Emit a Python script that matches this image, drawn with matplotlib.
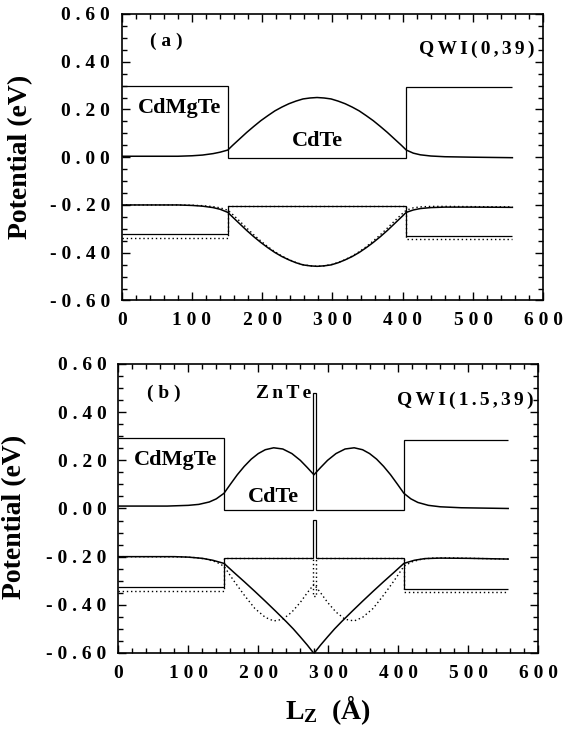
import matplotlib
matplotlib.use("Agg")
import matplotlib.pyplot as plt
from matplotlib.ticker import MultipleLocator

plt.rcParams['font.family'] = ['Liberation Serif', 'DejaVu Serif']
plt.rcParams['font.weight'] = 'bold'
plt.rcParams['mathtext.fontset'] = 'custom'
plt.rcParams['mathtext.rm'] = 'Liberation Serif:bold'
plt.rcParams['mathtext.bf'] = 'Liberation Serif:bold'
plt.rcParams['mathtext.it'] = 'Liberation Serif:bold'

# axis ticks
x_ticks = [0, 100, 200, 300, 400, 500, 600]
y_ticks = [-0.6, -0.4, -0.2, 0.0, 0.2, 0.4, 0.6]

# ---- panel (a): QWI(0,39) ----
# square potentials (edges in Angstrom, levels in eV)
a_edges = [0, 151, 405, 556]
a_cb_pot = [0.300, -0.003, 0.293]
a_hh_pot = [-0.323, -0.203, -0.331]
a_lh_pot = [-0.338, -0.203, -0.342]

a_x = [0, 80, 100, 115, 130, 140, 151, 158, 168, 178, 188, 198, 208, 218, 228,
       238, 248, 258, 268, 278, 288, 298, 308, 318, 328, 338, 348, 358, 368,
       378, 388, 398, 405, 415, 425, 440, 460, 500, 556]
a_cb = [0.004, 0.004, 0.006, 0.009, 0.015, 0.021, 0.030, 0.050, 0.077, 0.104,
        0.129, 0.153, 0.174, 0.194, 0.210, 0.224, 0.235, 0.244, 0.248, 0.250,
        0.248, 0.244, 0.235, 0.224, 0.210, 0.194, 0.174, 0.153, 0.129, 0.104,
        0.077, 0.050, 0.030, 0.017, 0.010, 0.005, 0.002, 0.000, -0.002]
a_hh = [-0.200, -0.200, -0.202, -0.205, -0.211, -0.218, -0.231, -0.251, -0.279,
        -0.307, -0.333, -0.357, -0.379, -0.399, -0.416, -0.430, -0.442, -0.451,
        -0.455, -0.457, -0.455, -0.451, -0.442, -0.430, -0.416, -0.399, -0.379,
        -0.357, -0.333, -0.307, -0.279, -0.251, -0.231, -0.221, -0.215, -0.211,
        -0.209, -0.209, -0.210]
a_lh = [-0.200, -0.200, -0.201, -0.203, -0.207, -0.212, -0.222, -0.240, -0.268,
        -0.297, -0.325, -0.351, -0.375, -0.396, -0.414, -0.429, -0.441, -0.450,
        -0.455, -0.457, -0.455, -0.450, -0.441, -0.429, -0.414, -0.396, -0.375,
        -0.351, -0.325, -0.297, -0.268, -0.240, -0.222, -0.212, -0.208, -0.206,
        -0.206, -0.207, -0.208]

# ---- panel (b): QWI(1.5,39), ZnTe spike in the middle ----
b_edges = [0, 151, 277.5, 282, 408, 557]
b_cb_pot = [0.293, -0.005, 0.480, -0.005, 0.285]
b_hh_pot = [-0.327, -0.207, -0.048, -0.207, -0.336]
b_lh_pot = [-0.341, -0.207, -0.365, -0.207, -0.348]

b_cb_x = [0, 70, 100, 115, 130, 140, 151, 160, 170, 180, 190, 200, 210, 222,
          235, 248, 260, 270, 279.5, 289, 299, 311, 324, 337, 349, 359, 369,
          379, 389, 399, 408, 418, 428, 443, 460, 490, 557]
b_cb = [0.010, 0.010, 0.013, 0.017, 0.027, 0.040, 0.063, 0.100, 0.140, 0.175,
        0.205, 0.228, 0.244, 0.252, 0.247, 0.228, 0.200, 0.170, 0.140, 0.170,
        0.200, 0.228, 0.247, 0.252, 0.244, 0.228, 0.205, 0.175, 0.140, 0.100,
        0.063, 0.040, 0.025, 0.013, 0.007, 0.003, 0.000]

b_hh_x = [0, 80, 100, 120, 135, 151, 165, 180, 195, 210, 225, 240, 250, 260,
          270, 279.5, 289, 299, 309, 319, 334, 349, 364, 379, 394, 408, 423,
          438, 460, 500, 557]
b_hh = [-0.200, -0.200, -0.202, -0.207, -0.215, -0.228, -0.265, -0.304, -0.344,
        -0.385, -0.427, -0.470, -0.500, -0.533, -0.567, -0.602, -0.567, -0.533,
        -0.500, -0.470, -0.427, -0.385, -0.344, -0.304, -0.265, -0.228, -0.215,
        -0.208, -0.206, -0.207, -0.210]

b_lh_x = [0, 90, 110, 125, 140, 151, 165, 180, 195, 210, 222, 235, 248, 260,
          270, 279.5, 289, 299, 311, 324, 337, 349, 364, 379, 394, 408, 419,
          434, 449, 470, 557]
b_lh = [-0.200, -0.201, -0.204, -0.210, -0.222, -0.240, -0.300, -0.360, -0.415,
        -0.452, -0.467, -0.460, -0.430, -0.390, -0.350, -0.315, -0.350, -0.390,
        -0.430, -0.460, -0.467, -0.452, -0.415, -0.360, -0.300, -0.240, -0.222,
        -0.210, -0.206, -0.205, -0.210]


def spaced(s, sep=' '):
    return sep.join(s)


def style_axes(ax):
    ax.set_xlim(0, 600)
    ax.set_ylim(-0.6, 0.6)
    ax.set_xticks(x_ticks)
    ax.set_xticklabels([spaced(str(v)) for v in x_ticks])
    ax.set_yticks(y_ticks)
    ax.set_yticklabels([spaced(f"{v:.2f}") for v in y_ticks])
    ax.xaxis.set_minor_locator(MultipleLocator(20))
    ax.yaxis.set_minor_locator(MultipleLocator(0.05))
    ax.tick_params(which='both', direction='in', top=True, right=True, width=1.0)
    ax.tick_params(which='major', length=6)
    ax.tick_params(which='minor', length=3.5)
    ax.tick_params(axis='x', pad=8.5, labelsize=14)
    ax.tick_params(axis='y', pad=8.5, labelsize=14)
    for sp in ax.spines.values():
        sp.set_linewidth(1.2)
    ax.set_ylabel('Potential (eV)', fontsize=20, fontweight='bold')


fig = plt.figure(figsize=(5.77, 7.30), dpi=100)
ax1 = fig.add_axes([0.2109, 0.5884, 0.7307, 0.3925])
ax2 = fig.add_axes([0.2050, 0.1055, 0.7279, 0.3959])

pot_kw = dict(color='black', lw=0.9, baseline=None)
dot_kw = dict(color='black', lw=1.0, linestyle=(0, (1, 2)))
thin = '\u2006'

# panel (a)
ax1.stairs(a_cb_pot, a_edges, **pot_kw)
ax1.stairs(a_hh_pot, a_edges, **pot_kw)
ax1.stairs(a_lh_pot, a_edges, color='black', lw=1.0, linestyle=(0, (1, 2)), baseline=None)
ax1.plot(a_x, a_cb, color='black', lw=1.1)
ax1.plot(a_x, a_hh, color='black', lw=1.1)
ax1.plot(a_x, a_lh, **dot_kw)
style_axes(ax1)
ax1.yaxis.set_label_coords(-0.21, 0.5)
ax1.text(41, 0.486, spaced('(a)'), fontsize=14, ha='left', va='center')
ax1.text(588, 0.451, spaced('QWI(0,39)', thin), fontsize=14, ha='right', va='center')
ax1.text(23, 0.206, 'CdMgTe', fontsize=16, ha='left', va='center')
ax1.text(279, 0.066, 'CdTe', fontsize=16, ha='center', va='center')

# panel (b)
ax2.stairs(b_cb_pot, b_edges, **pot_kw)
ax2.stairs(b_hh_pot, b_edges, **pot_kw)
ax2.stairs(b_lh_pot, b_edges, color='black', lw=1.0, linestyle=(0, (1, 2)), baseline=None)
ax2.plot(b_cb_x, b_cb, color='black', lw=1.1)
ax2.plot(b_hh_x, b_hh, color='black', lw=1.1)
ax2.plot(b_lh_x, b_lh, **dot_kw)
style_axes(ax2)
ax2.yaxis.set_label_coords(-0.217, 0.47)
ax2.set_xlabel(r'$\mathbf{L_Z}$  (Å)', fontsize=20, fontweight='bold')
ax2.xaxis.set_label_coords(0.5, -0.14)
ax2.text(41, 0.478, spaced('(b)'), fontsize=14, ha='left', va='center')
ax2.text(275, 0.478, spaced('ZnTe', thin), fontsize=14, ha='right', va='center')
ax2.text(594, 0.45, spaced('QWI(1.5,39)', thin), fontsize=14, ha='right', va='center')
ax2.text(22, 0.20, 'CdMgTe', fontsize=16, ha='left', va='center')
ax2.text(222, 0.049, 'CdTe', fontsize=16, ha='center', va='center')

fig.savefig('out.png', dpi=100)
